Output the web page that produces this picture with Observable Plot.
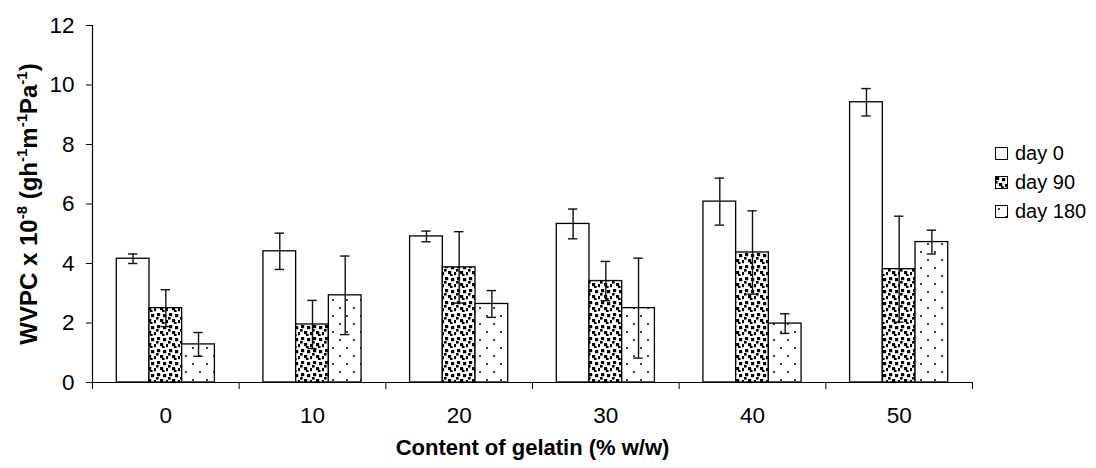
<!DOCTYPE html>
<html>
<head>
<meta charset="utf-8">
<script src="https://cdn.jsdelivr.net/npm/d3@7"></script>
<script src="https://cdn.jsdelivr.net/npm/@observablehq/plot@0.6"></script>
<style>
  html, body { margin: 0; padding: 0; background: #fff; }
  #chart { position: relative; width: 1096px; height: 468px; font-family: "Liberation Sans", Arial, sans-serif; }
  #legend { position: absolute; left: 995px; top: 139px; font-size: 20px; color: #000; }
  #legend .row { display: flex; align-items: center; height: 29px; }
  #legend svg { margin-right: 6px; }
</style>
</head>
<body>
<div id="chart"><div id="legend"></div></div>
<script>
// Gelatin content (% w/w) of each film formulation
const gelatin = [0, 10, 20, 30, 40, 50];
// Storage time series
const seriesNames = ["day 0", "day 90", "day 180"];
// WVPC x 10^-8 (g h^-1 m^-1 Pa^-1), mean and error
const day0 = [4.16, 4.41, 4.91, 5.33, 6.08, 9.42];
const day0Err = [0.16, 0.61, 0.18, 0.50, 0.79, 0.46];
const day90 = [2.50, 1.95, 3.87, 3.41, 4.37, 3.81];
const day90Err = [0.62, 0.81, 1.20, 0.66, 1.40, 1.78];
const day180 = [1.28, 2.93, 2.64, 2.50, 1.98, 4.72];
const day180Err = [0.40, 1.32, 0.45, 1.68, 0.33, 0.40];
const yTicks = [0, 2, 4, 6, 8, 10, 12];
const xTitle = "Content of gelatin (% w/w)";
const yTitle = "WVPC x 10-8 (gh-1m-1Pa-1)";

const values = [day0, day90, day180];
const errors = [day0Err, day90Err, day180Err];
const fills = ["white", "url(#pat-day90)", "url(#pat-day180)"];

// One row per bar
const rows = [];
gelatin.forEach((g, k) => {
  seriesNames.forEach((s, i) => {
    rows.push({g, series: s, i, value: values[i][k], err: errors[i][k]});
  });
});

// Group layout in gelatin units: each group spans one step, three bars inside
const step = gelatin[1] - gelatin[0];
const xDomain = [gelatin[0] - step / 2, gelatin[gelatin.length - 1] + step / 2];
const boundaries = [...gelatin.map(g => g - step / 2), gelatin[gelatin.length - 1] + step / 2];
const barW = step * 0.223;          // width of one bar
const capHalf = step * 0.032;       // half width of an error bar cap
const cx = d => d.g + (d.i - 1) * barW;

const font = "'Liberation Sans', Arial, sans-serif";

const svg = Plot.plot({
  width: 1096,
  height: 468,
  marginLeft: 92,
  marginRight: 124,
  marginTop: 25,
  marginBottom: 86,
  style: {fontFamily: font, fontSize: "22.5px", color: "#000", background: "white"},
  x: {type: "linear", domain: xDomain, axis: null},
  y: {domain: [0, 12], axis: null},
  marks: [
    Plot.rectY(rows, {
      x1: d => cx(d) - barW / 2,
      x2: d => cx(d) + barW / 2,
      y: "value",
      fill: d => fills[d.i],
      stroke: "#000",
      strokeWidth: 1.3
    }),
    // error bars
    Plot.ruleX(rows, {x: cx, y1: d => d.value - d.err, y2: d => d.value + d.err, stroke: "#111", strokeWidth: 1.4}),
    Plot.ruleY(rows, {y: d => d.value + d.err, x1: d => cx(d) - capHalf, x2: d => cx(d) + capHalf, stroke: "#111", strokeWidth: 1.4}),
    Plot.ruleY(rows, {y: d => d.value - d.err, x1: d => cx(d) - capHalf, x2: d => cx(d) + capHalf, stroke: "#111", strokeWidth: 1.4}),
    // axis lines
    Plot.ruleY([0], {x1: xDomain[0], x2: xDomain[1], stroke: "#000", strokeWidth: 1.2}),
    Plot.ruleX([xDomain[0]], {y1: 0, y2: yTicks[yTicks.length - 1], stroke: "#000", strokeWidth: 1.2}),
    // y axis
    Plot.axisY({ticks: yTicks, tickSize: 6, tickPadding: 12, label: null, tickFormat: d => String(d)}),
    // x axis: tick marks between groups, labels at group centres
    Plot.axisX({ticks: boundaries, tickSize: 7, tickFormat: () => "", label: null}),
    Plot.axisX({ticks: gelatin, tickSize: 0, tickPadding: 25, label: null, tickFormat: d => String(d)}),
    // axis titles
    Plot.text([xTitle], {frameAnchor: "bottom", textAnchor: "middle", lineAnchor: "middle", dy: 65, fontWeight: "bold", fontSize: 22}),
    Plot.text([yTitle], {frameAnchor: "left", textAnchor: "middle", lineAnchor: "middle", dx: -63, rotate: -90, fontWeight: "bold", fontSize: 24})
  ]
});

// Fill patterns for the stored samples
const defs = d3.select(svg).insert("defs", ":first-child");
const p90 = defs.append("pattern")
  .attr("id", "pat-day90").attr("patternUnits", "userSpaceOnUse")
  .attr("width", 12).attr("height", 12);
p90.append("rect").attr("width", 12).attr("height", 12).attr("fill", "white");
[[1, 1], [7, 2], [4, 7], [10, 8], [0, 5], [6, 10]].forEach(([x, y], j) => {
  p90.append("rect").attr("x", x).attr("y", y)
    .attr("width", j > 3 ? 2.6 : 3.2).attr("height", j > 3 ? 2.6 : 3.2).attr("fill", "#000");
});
const p180 = defs.append("pattern")
  .attr("id", "pat-day180").attr("patternUnits", "userSpaceOnUse")
  .attr("width", 14).attr("height", 16);
p180.append("rect").attr("width", 14).attr("height", 16).attr("fill", "white");
[[3, 3], [10, 11]].forEach(([x, y]) => {
  p180.append("rect").attr("x", x).attr("y", y).attr("width", 2).attr("height", 2).attr("fill", "#444");
});

// Superscripts in the y title
d3.select(svg).selectAll("text").filter(function() { return this.textContent === yTitle; })
  .each(function() {
    const t = d3.select(this);
    t.text(null);
    const parts = [["WVPC x 10", false], ["-8", true], [" (gh", false], ["-1", true], ["m", false], ["-1", true], ["Pa", false], ["-1", true], [")", false]];
    let up = false;
    parts.forEach(([s, sup]) => {
      const ts = t.append("tspan").text(s);
      if (sup) { ts.attr("font-size", 15).attr("dy", up ? 0 : -10); up = true; }
      else { ts.attr("dy", up ? 10 : 0); up = false; }
    });
  });

const chart = document.getElementById("chart");
chart.insertBefore(svg, chart.firstChild);

// Legend
const legend = d3.select("#legend");
seriesNames.forEach((s, i) => {
  const row = legend.append("div").attr("class", "row");
  const sw = row.append("svg").attr("width", 14).attr("height", 14);
  sw.append("rect").attr("x", 0.5).attr("y", 0.5).attr("width", 12).attr("height", 12)
    .attr("fill", fills[i]).attr("stroke", "#000").attr("stroke-width", 1);
  row.append("span").text(s);
});
</script>
</body>
</html>
